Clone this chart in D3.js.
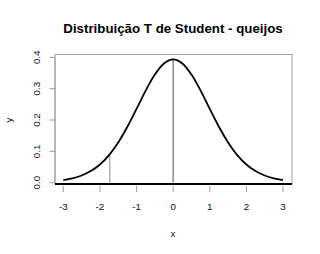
<!doctype html>
<html>
<head>
<meta charset="utf-8">
<script src="https://d3js.org/d3.v7.min.js"></script>
<style>
body { margin: 0; background: #fff; }
text { font-family: "Liberation Sans", Arial, sans-serif; }
</style>
</head>
<body>
<svg width="320" height="254"></svg>
<script>
// valores (densidade t, curva simetrica)
var xs = [-3, -2.75, -2.5, -2.25, -2, -1.75, -1.5, -1.25, -1, -0.75, -0.5, -0.25, 0,
          0.25, 0.5, 0.75, 1, 1.25, 1.5, 1.75, 2, 2.25, 2.5, 2.75, 3];
var ys = [0.0081, 0.0138, 0.0229, 0.0370, 0.0582, 0.0882, 0.1284, 0.1784, 0.2354, 0.2937, 0.3450, 0.3805, 0.3932,
          0.3805, 0.3450, 0.2937, 0.2354, 0.1784, 0.1284, 0.0882, 0.0582, 0.0370, 0.0229, 0.0138, 0.0081];
var vlinesX = [-1.729, 0];
var vlinesY = [0.0897, 0.3932];
var xTicks = [-3, -2, -1, 0, 1, 2, 3];
var yTicks = [0, 0.1, 0.2, 0.3, 0.4];

var svg = d3.select("svg");

var x = d3.scaleLinear().domain([-3, 3]).range([63.3, 283]);
var y = d3.scaleLinear().domain([0, 0.4]).range([182.7, 57.3]);

var boxL = 55, boxR = 292, boxT = 54.5, boxB = 184;

// caixa
svg.append("rect")
    .attr("x", boxL).attr("y", boxT)
    .attr("width", boxR - boxL).attr("height", boxB - boxT)
    .attr("fill", "none").attr("stroke", "#a0a0a0").attr("stroke-width", 1);
svg.append("line")
    .attr("x1", boxL).attr("x2", boxR)
    .attr("y1", boxB).attr("y2", boxB)
    .attr("stroke", "#000").attr("stroke-width", 2);

// eixo x
var gx = svg.append("g").attr("transform", "translate(0,186)");
gx.selectAll("line").data(xTicks).enter().append("line")
    .attr("x1", function(d) { return x(d); }).attr("x2", function(d) { return x(d); })
    .attr("y1", 0).attr("y2", 6)
    .attr("stroke", "#a0a0a0");
gx.selectAll("text").data(xTicks).enter().append("text")
    .attr("x", function(d) { return x(d); })
    .attr("y", 24)
    .attr("text-anchor", "middle")
    .attr("font-size", "9.8px")
    .attr("fill", "#111")
    .text(function(d) { return d; });

// eixo y
var gy = svg.append("g");
gy.append("line")
    .attr("x1", boxL).attr("x2", boxL)
    .attr("y1", y(0)).attr("y2", y(0.4))
    .attr("stroke", "#a0a0a0");
gy.selectAll("line.tick").data(yTicks).enter().append("line")
    .attr("class", "tick")
    .attr("x1", boxL - 5.5).attr("x2", boxL)
    .attr("y1", function(d) { return y(d); }).attr("y2", function(d) { return y(d); })
    .attr("stroke", "#a0a0a0");
gy.selectAll("text").data(yTicks).enter().append("text")
    .attr("transform", function(d) { return "translate(39.5," + y(d) + ") rotate(-90)"; })
    .attr("text-anchor", "middle")
    .attr("font-size", "9.8px")
    .attr("fill", "#111")
    .text(function(d) { return d3.format(".1f")(d); });

// linhas verticais
svg.selectAll("line.v").data(vlinesX).enter().append("line")
    .attr("class", "v")
    .attr("x1", function(d) { return x(d); }).attr("x2", function(d) { return x(d); })
    .attr("y1", y(0)).attr("y2", function(d, i) { return y(vlinesY[i]); })
    .attr("stroke", function(d, i) { return i == 0 ? "#888" : "#555"; })
    .attr("stroke-width", 1);

// curva
var pts = xs.map(function(d, i) { return [d, ys[i]]; });
svg.append("path")
    .datum(pts)
    .attr("fill", "none")
    .attr("stroke", "#000")
    .attr("stroke-width", 1.8)
    .attr("d", d3.line()
        .x(function(d) { return x(d[0]); })
        .y(function(d) { return y(d[1]); })
        .curve(d3.curveCatmullRom));

// titulos
svg.append("text")
    .attr("x", 173).attr("y", 33.3)
    .attr("text-anchor", "middle")
    .attr("font-size", "13.3px")
    .attr("font-weight", "bold")
    .attr("fill", "#000")
    .text("Distribuição T de Student - queijos");
svg.append("text")
    .attr("x", 173).attr("y", 236.7)
    .attr("text-anchor", "middle")
    .attr("font-size", "9.8px")
    .attr("fill", "#111")
    .text("x");
svg.append("text")
    .attr("transform", "translate(12,120) rotate(-90)")
    .attr("text-anchor", "middle")
    .attr("font-size", "9.8px")
    .attr("fill", "#111")
    .text("y");
</script>
</body>
</html>
